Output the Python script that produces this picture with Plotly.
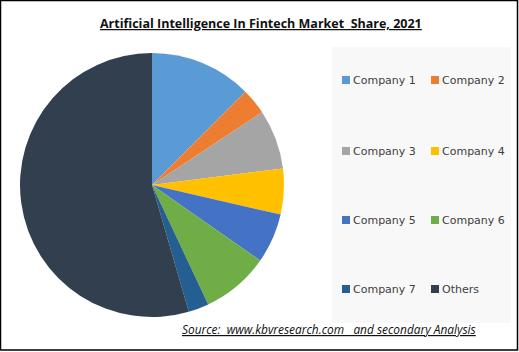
import plotly.graph_objects as go

labels = ["Company 1", "Company 2", "Company 3", "Company 4",
          "Company 5", "Company 6", "Company 7", "Others"]
shares = [12.5, 3.2, 7.3, 5.6, 6.1, 8.3, 2.5, 54.5]
colors = ["#5B9BD5", "#ED7D31", "#A5A5A5", "#FFC000",
          "#4472C4", "#70AD47", "#255E91", "#323F4F"]

title_text = "Artificial Intelligence In Fintech Market  Share, 2021"
source_text = "Source:  www.kbvresearch.com   and secondary Analysis"

W, H = 519, 352

fig = go.Figure()
fig.add_trace(go.Pie(
    labels=labels, values=shares, sort=False, direction="clockwise",
    rotation=0, marker=dict(colors=colors, line=dict(width=0)),
    textinfo="none", hoverinfo="label+percent", showlegend=False,
    domain=dict(x=[20 / W, 284 / W], y=[1 - 317 / H, 1 - 53 / H]),
))

shapes = [
    # outer border
    dict(type="rect", xref="paper", yref="paper", x0=0.5 / W, x1=517.5 / W,
         y0=1 - 350 / H, y1=1 - 0.5 / H, line=dict(color="#000000", width=1.5)),
    # legend background
    dict(type="rect", xref="paper", yref="paper", x0=332 / W, x1=511 / W,
         y0=1 - 323 / H, y1=1 - 47 / H, line=dict(width=0),
         fillcolor="#F8F8F8", layer="below"),
]
annotations = []
row_y = [80, 151, 220, 289]
col_x = [342, 431]
for i, (lab, col) in enumerate(zip(labels, colors)):
    r, c = divmod(i, 2)
    x = col_x[c]
    y = row_y[r]
    shapes.append(dict(type="rect", xref="paper", yref="paper",
                       x0=x / W, x1=(x + 8) / W,
                       y0=1 - (y + 4) / H, y1=1 - (y - 4) / H,
                       line=dict(width=0), fillcolor=col))
    annotations.append(dict(text=lab, xref="paper", yref="paper",
                            x=(x + 9) / W, y=1 - y / H, xanchor="left",
                            yanchor="middle", showarrow=False,
                            font=dict(family="DejaVu Sans", size=11, color="#404040")))

annotations.append(dict(text="<b><u>" + title_text + "</u></b>", xref="paper", yref="paper",
                        x=261 / W, y=1 - 24 / H, xanchor="center", yanchor="middle",
                        showarrow=False,
                        font=dict(family="Open Sans", size=12.5, color="#111111")))
annotations.append(dict(text="<i><u>" + source_text + "</u></i>", xref="paper", yref="paper",
                        x=329 / W, y=1 - 329 / H, xanchor="center", yanchor="middle",
                        showarrow=False,
                        font=dict(family="Open Sans", size=11.9, color="#111111")))

fig.update_layout(
    width=W, height=H, margin=dict(l=0, r=0, t=0, b=0),
    paper_bgcolor="white", plot_bgcolor="white",
    shapes=shapes, annotations=annotations,
)
fig.write_html("out.html")
